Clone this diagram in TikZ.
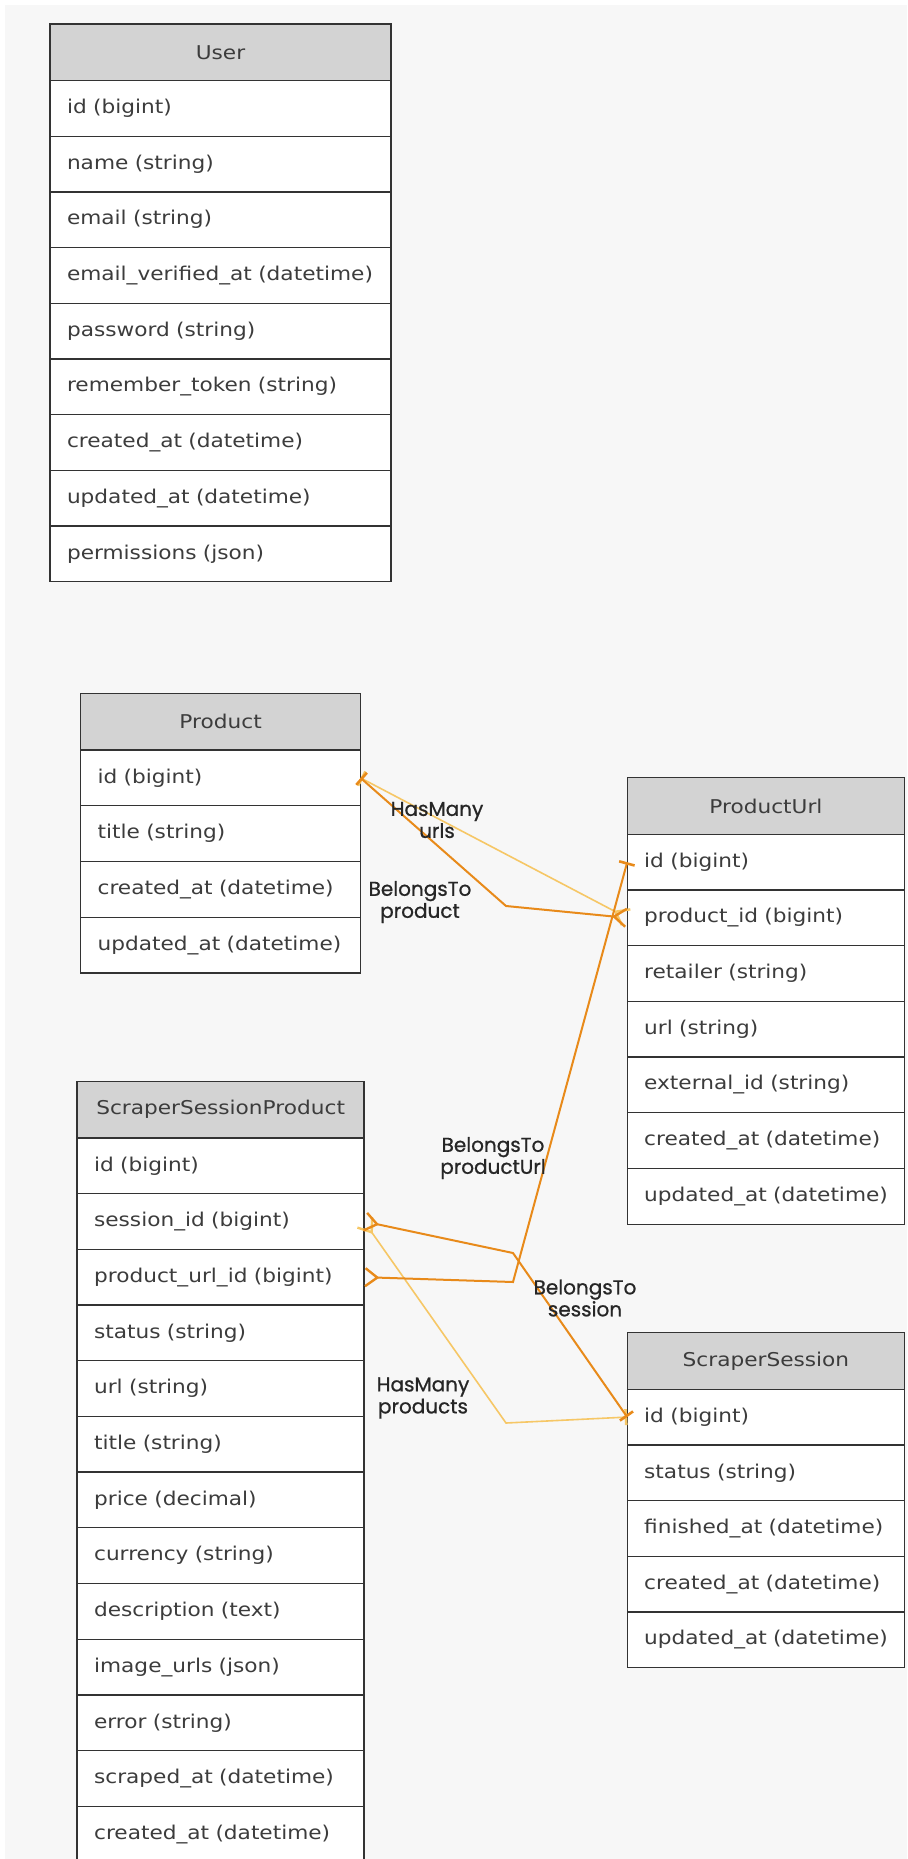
\documentclass[tikz,border=0pt]{standalone}
\usepackage{fontspec}
\setmainfont{DejaVu Sans}[FakeStretch=1.14]
\newfontfamily\fontetichetta{Poppins}[FakeBold=0.8]
\usetikzlibrary{positioning,arrows.meta}

\definecolor{sfondo}{HTML}{F7F7F7}
\definecolor{testata}{HTML}{D3D3D3}
\definecolor{bordo}{HTML}{333333}
\definecolor{testo}{HTML}{3C3C3C}
\definecolor{scuro}{HTML}{E88A1A}
\definecolor{chiaro}{HTML}{F6C766}

\tikzset{
  cella/.style={draw=bordo, line width=1.3pt, outer sep=0pt, inner xsep=17pt,
    inner ysep=0pt, text=testo, font=\fontsize{19}{22}\selectfont},
  testa/.style={cella, fill=testata, minimum height=56.5pt, align=center},
  campo/.style={cella, fill=white, minimum height=55.7pt, align=left},
  etichetta/.style={align=center, text=black!85,
    font=\fontetichetta\fontsize{20}{22}\selectfont},
  piede/.tip={Straight Barb[reversed, length=12pt, width=18pt, line width=2.4pt]},
  tacca/.tip={Bar[width=16pt, line width=2.6pt]},
  appartiene/.style={draw=scuro, line width=2pt},
  possiede/.style={draw=chiaro, line width=1.6pt},
}

% tabella: nome, x, y, larghezza, titolo, campi
\newcommand{\tabella}[6]{%
  \pgfmathsetmacro{\lt}{#4-34}
  \node[testa, text width=\lt pt, anchor=north west] (#1-0) at (#2,#3) {#5};
  \foreach \campo [count=\i] in {#6} {
    \pgfmathtruncatemacro{\j}{\i-1}
    \node[campo, text width=\lt pt, below=0pt of #1-\j] (#1-\i) {\mbox{\campo}};
  }%
}

\begin{document}
\begin{tikzpicture}[x=1pt, y=-1pt]
    % pagina
    \useasboundingbox (0,0) rectangle (907,1859);
    \fill[white] (0,0) rectangle (907,1859);
    \fill[sfondo] (5,5) rectangle (907,1859);

    % tabelle
    \tabella{utente}{50}{24}{341}{User}{id (bigint), name (string), email (string),
      email\_verified\_at (datetime), password (string), remember\_token (string),
      created\_at (datetime), updated\_at (datetime), permissions (json)}
    \tabella{prodotto}{80.6}{693.6}{280}{Product}{id (bigint), title (string),
      created\_at (datetime), updated\_at (datetime)}
    \tabella{url}{627.2}{777.8}{277.5}{ProductUrl}{id (bigint), product\_id (bigint),
      retailer (string), url (string), external\_id (string), created\_at (datetime),
      updated\_at (datetime)}
    \tabella{ssp}{77.1}{1081.4}{287}{ScraperSessionProduct}{id (bigint),
      session\_id (bigint), product\_url\_id (bigint), status (string), url (string),
      title (string), price (decimal), currency (string), description (text),
      image\_urls (json), error (string), scraped\_at (datetime), created\_at (datetime)}
    \tabella{sessione}{627.2}{1332.7}{277.5}{ScraperSession}{id (bigint),
      status (string), finished\_at (datetime), created\_at (datetime),
      updated\_at (datetime)}

    % relazioni HasMany
    \draw[possiede, tacca-piede] (prodotto-1.east) -- (url-2.west);
    \draw[possiede, piede-tacca] (ssp-2.east) -- (506,1423) -- (sessione-1.west);

    % relazioni BelongsTo
    \draw[appartiene, piede-tacca] (url-2.west) -- (506,906) -- (prodotto-1.east);
    \draw[appartiene, piede-tacca] (ssp-3.east) -- (513,1282) -- (url-1.west);
    \draw[appartiene, piede-tacca] (ssp-2.east) -- (513,1253) -- (sessione-1.west);

    % etichette
    \node[etichetta] (lab-urls) at (437,820) {HasMany\\urls};
    \node[etichetta] (lab-product) at (420,902) {BelongsTo\\product};
    \node[etichetta] (lab-producturl) at (493,1158) {BelongsTo\\productUrl};
    \node[etichetta] (lab-session) at (585,1298) {BelongsTo\\session};
    \node[etichetta] (lab-products) at (423,1398) {HasMany\\products};
\end{tikzpicture}
\end{document}
